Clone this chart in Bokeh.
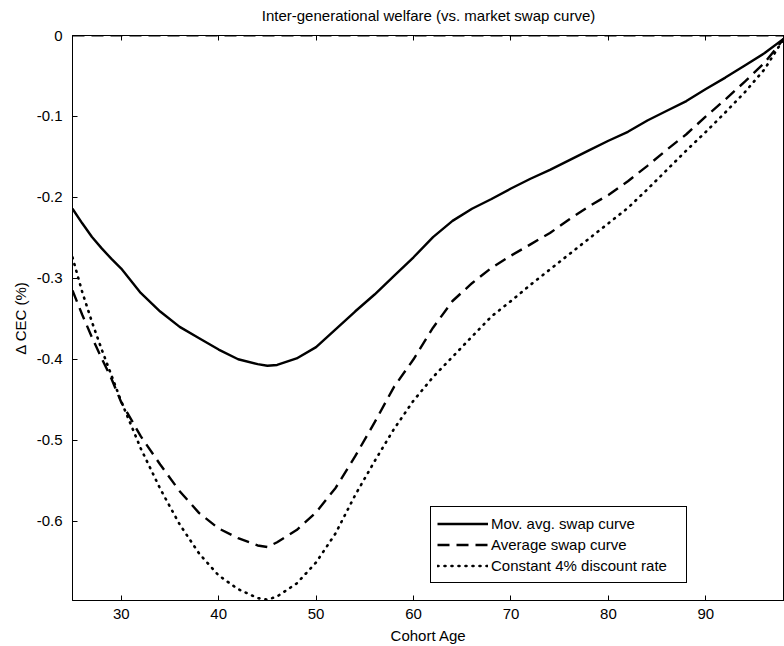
from bokeh.plotting import figure
from bokeh.models import (Range1d, FixedTicker, LinearAxis, Span, Legend, LegendItem,
                          CustomJSTickFormatter)
from bokeh.embed import file_html
from bokeh.resources import INLINE

# ---- data ----
ages = [25, 26, 27, 28, 29, 30, 32, 34, 36, 38, 40, 42, 44, 45, 46, 48, 50, 52, 54, 56,
        58, 60, 62, 64, 66, 68, 70, 72, 74, 76, 78, 80, 82, 84, 86, 88, 90, 92, 94, 96, 98]
mov_avg_swap = [-0.214, -0.232, -0.249, -0.263, -0.276, -0.288, -0.318, -0.341, -0.360, -0.374,
                -0.388, -0.400, -0.406, -0.408, -0.407, -0.399, -0.385, -0.363, -0.341, -0.320,
                -0.297, -0.274, -0.249, -0.229, -0.214, -0.202, -0.189, -0.177, -0.166, -0.154,
                -0.142, -0.130, -0.119, -0.105, -0.093, -0.081, -0.066, -0.052, -0.037, -0.022, -0.004]
avg_swap = [-0.315, -0.345, -0.373, -0.399, -0.424, -0.453, -0.495, -0.530, -0.563, -0.590,
            -0.609, -0.621, -0.630, -0.632, -0.626, -0.611, -0.589, -0.559, -0.520, -0.478,
            -0.434, -0.400, -0.361, -0.328, -0.306, -0.287, -0.272, -0.258, -0.244, -0.227,
            -0.211, -0.197, -0.180, -0.161, -0.141, -0.122, -0.100, -0.079, -0.057, -0.034, -0.004]
const_4pct = [-0.274, -0.317, -0.354, -0.388, -0.420, -0.452, -0.510, -0.560, -0.604, -0.640,
              -0.667, -0.684, -0.695, -0.697, -0.693, -0.677, -0.651, -0.615, -0.568, -0.526,
              -0.486, -0.451, -0.422, -0.397, -0.372, -0.347, -0.328, -0.308, -0.289, -0.270,
              -0.251, -0.232, -0.213, -0.190, -0.166, -0.142, -0.119, -0.095, -0.070, -0.042, -0.004]
series_names = ["Mov. avg. swap curve", "Average swap curve", "Constant 4% discount rate"]
x_ticks = [30, 40, 50, 60, 70, 80, 90]
y_ticks = [-0.6, -0.5, -0.4, -0.3, -0.2, -0.1, 0]
baseline_value = 0
chart_title = "Inter-generational welfare (vs. market swap curve)"

FONT = "Liberation Sans"
FS = "15px"

p = figure(width=784, height=646, output_backend="svg", toolbar_location=None,
           x_range=Range1d(25, 98.07), y_range=Range1d(-0.698, 0),
           min_border_left=72, min_border_right=0, min_border_top=35, min_border_bottom=44)

p.xgrid.visible = False
p.ygrid.visible = False
p.outline_line_color = "black"
p.outline_line_alpha = 1
p.background_fill_color = "white"
p.border_fill_color = "white"

for ax in p.xaxis:
    ax.ticker = FixedTicker(ticks=x_ticks)
    ax.axis_label = "Cohort Age"
    ax.major_label_standoff = 8
    ax.axis_label_standoff = 5
for ax in p.yaxis:
    ax.ticker = FixedTicker(ticks=y_ticks)
    ax.axis_label = "\u0394 CEC (%)"
    ax.formatter = CustomJSTickFormatter(code="return tick == 0 ? '0' : tick.toFixed(1);")
    ax.major_label_standoff = 10
    ax.axis_label_standoff = 5

for ax in p.xaxis + p.yaxis:
    ax.major_tick_in = 5
    ax.major_tick_out = 0
    ax.minor_tick_in = 0
    ax.minor_tick_out = 0
    ax.axis_line_color = "black"
    ax.major_tick_line_color = "black"
    ax.major_label_text_font = FONT
    ax.major_label_text_font_size = FS
    ax.major_label_text_color = "black"
    ax.axis_label_text_font = FONT
    ax.axis_label_text_font_size = FS
    ax.axis_label_text_font_style = "normal"
    ax.axis_label_text_color = "black"

# top box axis: ticks only, with the chart title as its label
top = LinearAxis(ticker=FixedTicker(ticks=x_ticks), major_tick_in=5, major_tick_out=0,
                 minor_tick_in=0, minor_tick_out=0,
                 formatter=CustomJSTickFormatter(code="return '';"),
                 major_label_standoff=0, axis_line_color="black",
                 axis_label=chart_title, axis_label_standoff=12,
                 axis_label_text_font=FONT, axis_label_text_font_size=FS,
                 axis_label_text_font_style="normal", axis_label_text_color="black")
p.add_layout(top, "above")

p.add_layout(Span(location=baseline_value, dimension="width", line_color="black",
                  line_width=2, line_dash="12 7"))

r1 = p.line(ages, mov_avg_swap, line_color="black", line_width=2.4)
r2 = p.line(ages, avg_swap, line_color="black", line_width=2.4, line_dash="12 7")
r3 = p.line(ages, const_4pct, line_color="black", line_width=2.6, line_dash="1 6",
            line_cap="round")

legend = Legend(items=[LegendItem(label=series_names[0], renderers=[r1]),
                       LegendItem(label=series_names[1], renderers=[r2]),
                       LegendItem(label=series_names[2], renderers=[r3])],
                location=(358, 17))
legend.border_line_color = "black"
legend.border_line_width = 1
legend.border_line_alpha = 1
legend.background_fill_color = "white"
legend.background_fill_alpha = 1
legend.label_text_font = FONT
legend.label_text_font_size = FS
legend.label_text_color = "black"
legend.glyph_width = 51
legend.glyph_height = 21
legend.label_height = 21
legend.label_width = 189
legend.label_standoff = 3
legend.padding = 6
legend.spacing = 0
legend.margin = 0
p.add_layout(legend)

open("out.html", "w").write(file_html(p, INLINE))
